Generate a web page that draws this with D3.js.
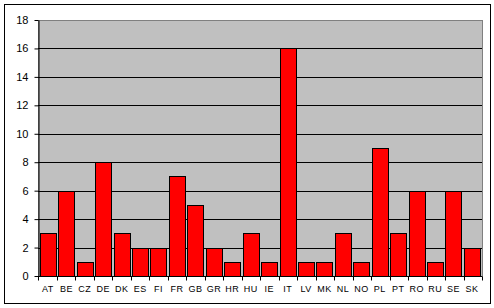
<!DOCTYPE html>
<html>
<head>
<meta charset="utf-8">
<script src="https://cdn.jsdelivr.net/npm/d3@7"></script>
<style>
    body { margin: 0; background: #fff; }
    .axis text { font-family: "Liberation Sans", Arial, sans-serif; fill: #000; }
    .axis path, .axis line { stroke: #000; }
</style>
</head>
<body>
<div id="chart"></div>
<script>
// Country codes along the x axis
const countries = ["AT","BE","CZ","DE","DK","ES","FI","FR","GB","GR","HR","HU",
                   "IE","IT","LV","MK","NL","NO","PL","PT","RO","RU","SE","SK"];
// Count per country
const counts = [3, 6, 1, 8, 3, 2, 2, 7, 5, 2, 1, 3,
                1, 16, 1, 1, 3, 1, 9, 3, 6, 1, 6, 2];
// Y axis ticks
const yTicks = [0, 2, 4, 6, 8, 10, 12, 14, 16, 18];

const data = countries.map((c, i) => ({country: c, value: counts[i]}));

// Set dimensions
const W = 494, H = 308;
const margin = {top: 20, right: 12, bottom: 32, left: 38};
const width = W - margin.left - margin.right;
const height = H - margin.top - margin.bottom;

const root = d3.select('#chart')
    .append('svg')
    .attr('width', W)
    .attr('height', H);

// Outer frame
root.append('rect')
    .attr('x', 4.5).attr('y', 4.5)
    .attr('width', 486).attr('height', 299)
    .attr('fill', '#fff')
    .attr('stroke', '#000')
    .attr('stroke-width', 1);

const svg = root.append('g')
    .attr('transform', `translate(${margin.left},${margin.top})`);

// Scales
const xScale = d3.scaleBand()
    .domain(countries)
    .range([0, width])
    .paddingInner(0.12)
    .paddingOuter(0.1);

const yScale = d3.scaleLinear()
    .domain([0, 18])
    .range([height, 0]);

// Plot background
svg.append('rect')
    .attr('x', 0.5).attr('y', 0.5)
    .attr('width', width).attr('height', height)
    .attr('fill', '#c0c0c0')
    .attr('stroke', '#808080');

// Gridlines
svg.selectAll('.grid')
    .data(yTicks.filter(t => t > 0 && t < 18))
    .enter().append('line')
    .attr('class', 'grid')
    .attr('x1', 0).attr('x2', width)
    .attr('y1', d => Math.round(yScale(d)) + 0.5)
    .attr('y2', d => Math.round(yScale(d)) + 0.5)
    .attr('stroke', '#000')
    .attr('stroke-width', 1);

// Bars
svg.selectAll('.bar')
    .data(data)
    .enter().append('rect')
    .attr('class', 'bar')
    .attr('x', d => Math.round(xScale(d.country)) + 0.5)
    .attr('width', Math.round(xScale.bandwidth()))
    .attr('y', d => Math.round(yScale(d.value)) + 0.5)
    .attr('height', d => Math.round(height - yScale(d.value)))
    .attr('fill', '#ff0000')
    .attr('stroke', '#000')
    .attr('stroke-width', 1);

// X axis: ticks at band boundaries
const xAxis = svg.append('g')
    .attr('class', 'axis')
    .attr('transform', `translate(0,${height + 0.5})`);

xAxis.append('line')
    .attr('x1', 0).attr('x2', width)
    .attr('stroke', '#000');

const step = width / countries.length;
const bounds = d3.range(countries.length + 1).map(i => i * step);
xAxis.selectAll('.xtick')
    .data(bounds)
    .enter().append('line')
    .attr('class', 'xtick')
    .attr('x1', d => Math.round(d) + 0.5).attr('x2', d => Math.round(d) + 0.5)
    .attr('y1', 0).attr('y2', 4)
    .attr('stroke', '#000');

xAxis.selectAll('.xlabel')
    .data(countries)
    .enter().append('text')
    .attr('class', 'xlabel')
    .attr('x', d => xScale(d) + xScale.bandwidth() / 2)
    .attr('y', 15)
    .attr('text-anchor', 'middle')
    .style('font-size', '9px')
    .style('letter-spacing', '0.5px')
    .text(d => d);

// Y axis
svg.append('g')
    .attr('class', 'axis')
    .attr('transform', 'translate(0.5,0)')
    .call(d3.axisLeft(yScale).tickValues(yTicks).tickSize(4).tickPadding(6).tickSizeOuter(0))
    .selectAll('text')
    .style('font-size', '11px');
</script>
</body>
</html>
